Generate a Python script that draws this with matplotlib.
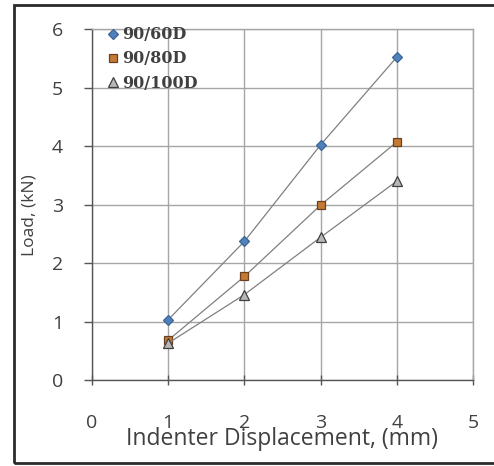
import matplotlib
matplotlib.use("Agg")
import matplotlib.pyplot as plt
from matplotlib.patches import Rectangle

# indentation test: load against indenter displacement for three grades
displacement = [1, 2, 3, 4]
load_60d = [1.03, 2.37, 4.02, 5.52]
load_80d = [0.68, 1.77, 2.99, 4.07]
load_100d = [0.63, 1.46, 2.44, 3.40]
series_labels = ["90/60D", "90/80D", "90/100D"]

x_ticks = [0, 1, 2, 3, 4, 5]
y_ticks = [0, 1, 2, 3, 4, 5, 6]

TEXT = "#404040"
GRID = "#a6a6a6"
LINE = "#808080"
FONT = "Open Sans"

fig = plt.figure(figsize=(4.94, 4.66), dpi=100)
ax = fig.add_axes([0.1862, 0.1845, 0.7713, 0.7532])

styles = [
  dict(marker="D", markersize=5.5, markerfacecolor="#4f81bd", markeredgecolor="#3c6592"),
  dict(marker="s", markersize=6, markerfacecolor="#c47a35", markeredgecolor="#6b4020"),
  dict(marker="^", markersize=6.5, markerfacecolor="#b8b8b8", markeredgecolor="#404040"),
]
for ys, label, st in zip([load_60d, load_80d, load_100d], series_labels, styles):
  ax.plot(displacement, ys, color=LINE, linewidth=0.9, label=label,
          markeredgewidth=0.9, **st)

ax.set_xlim(0, 5)
ax.set_ylim(0, 6)
ax.set_xticks(x_ticks)
ax.set_yticks(y_ticks)
ax.grid(True, color=GRID, linewidth=1.0)
ax.set_axisbelow(True)

for side in ("top", "right"):
  ax.spines[side].set_color(GRID)
  ax.spines[side].set_linewidth(1.0)
for side in ("left", "bottom"):
  ax.spines[side].set_color("#555555")
  ax.spines[side].set_linewidth(1.0)

ax.tick_params(axis="x", direction="inout", length=7, width=1.0, color="#555555",
               pad=21, labelsize=14, labelcolor=TEXT)
ax.tick_params(axis="y", direction="out", length=6, width=1.0, color="#555555",
               pad=15, labelsize=14, labelcolor=TEXT)
for lab in ax.get_xticklabels() + ax.get_yticklabels():
  lab.set_fontfamily(FONT)

ax.set_xlabel("Indenter Displacement, (mm)", fontsize=16.5, color=TEXT, family=FONT)
ax.xaxis.set_label_coords(0.5, -0.168)
ax.xaxis.label.set_va("center")
ax.set_ylabel("Load, (kN)", fontsize=12.5, color=TEXT, family=FONT)
ax.yaxis.set_label_coords(-0.165, 0.47)
ax.yaxis.label.set_va("center")

leg = ax.legend(loc="upper left", bbox_to_anchor=(0.015, 1.04), frameon=False,
                handlelength=0.5, handletextpad=0.35, borderaxespad=0.3,
                labelspacing=0.45,
                prop=dict(family="DejaVu Serif", weight="bold", size=11.5))
for h in leg.get_lines():
  h.set_linestyle("none")
for t in leg.get_texts():
  t.set_color(TEXT)

# dark frame around the whole chart, right side runs off the edge
fig.patches.append(Rectangle((0.0283, 0.0064), 1.0, 0.983, transform=fig.transFigure,
                             fill=False, edgecolor="#2b2b2b", linewidth=2.0))

fig.savefig("out.png", dpi=100)
